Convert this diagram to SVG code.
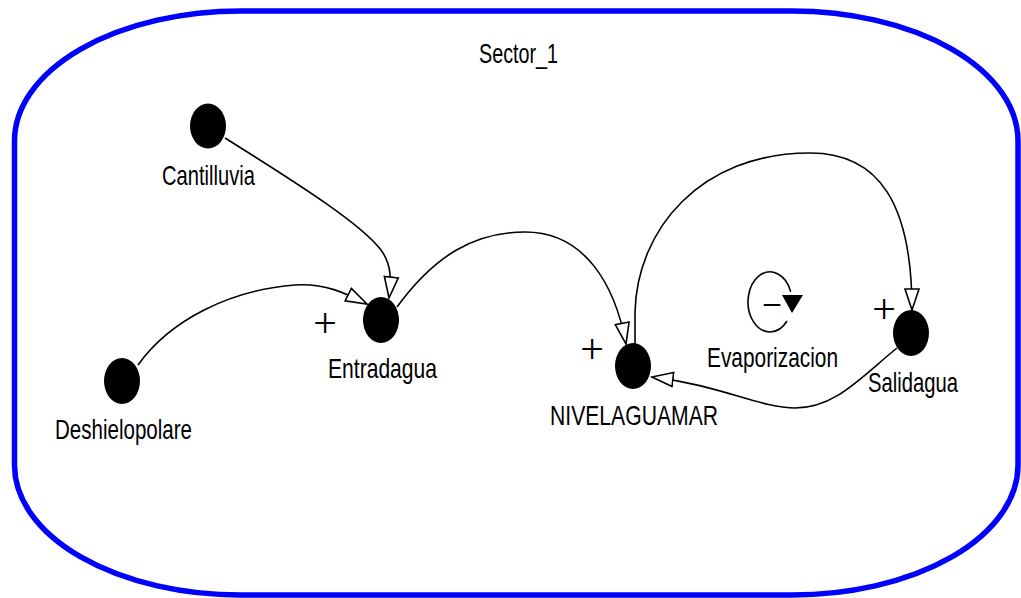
<svg xmlns="http://www.w3.org/2000/svg" width="1021" height="598" viewBox="0 0 1021 598">
  <style>
    .lbl { font-family: "Liberation Sans", Arial, sans-serif; font-size: 28px; fill: #000; }
    .sign { font-family: "Liberation Serif", "Times New Roman", serif; font-size: 42px; fill: #000; text-anchor: middle; }
    .node { fill: #000; }
    .link { fill: none; stroke: #000; stroke-width: 1.6; }
  </style>
  <defs>
    <marker id="hollow" viewBox="0 0 24 18" refX="22" refY="9" markerWidth="24" markerHeight="18" markerUnits="userSpaceOnUse" orient="auto">
      <path d="M1,2 L22,9 L1,16 Z" fill="#fff" stroke="#000" stroke-width="1.6"/>
    </marker>
  </defs>
  <rect width="1021" height="598" fill="#fff"/>
  <g id="sector">
    <rect x="14.5" y="11" width="1003.5" height="584" rx="226" ry="130" fill="none" stroke="#0000ff" stroke-width="5.5"/>
    <text class="lbl" x="479" y="63" textLength="79" lengthAdjust="spacingAndGlyphs">Sector_1</text>
  </g>
  <g id="connectors">
    <path class="link" d="M225,138 C305,188 362,225 381,250 C392,265 391,280 389,298" marker-end="url(#hollow)"/>
    <path class="link" d="M138,365 C170,320 230,290 295,285 C325,283 345,293 367,304" marker-end="url(#hollow)"/>
    <path class="link" d="M397,307 C435,255 475,232 525,232 C585,232 615,285 626,344" marker-end="url(#hollow)"/>
    <path class="link" d="M635,344 L635,312 C637,230 700,153 810,153 C880,153 912,205 912,310" marker-end="url(#hollow)"/>
    <path class="link" d="M897,348 C860,378 835,408 795,408 C760,408 720,385 652,377" marker-end="url(#hollow)"/>
  </g>
  <g id="Cantilluvia">
    <ellipse class="node" cx="208" cy="126" rx="18" ry="22.5"/>
    <text class="lbl" x="162" y="185" textLength="93" lengthAdjust="spacingAndGlyphs">Cantilluvia</text>
  </g>
  <g id="Deshielopolare">
    <ellipse class="node" cx="122" cy="381" rx="18" ry="23"/>
    <text class="lbl" x="55" y="439" textLength="137" lengthAdjust="spacingAndGlyphs">Deshielopolare</text>
  </g>
  <g id="Entradagua">
    <ellipse class="node" cx="381" cy="320" rx="18" ry="23"/>
    <text class="lbl" x="328" y="378" textLength="109" lengthAdjust="spacingAndGlyphs">Entradagua</text>
    <text class="sign" x="325" y="337">+</text>
  </g>
  <g id="NIVELAGUAMAR">
    <ellipse class="node" cx="633" cy="366" rx="18" ry="23"/>
    <text class="lbl" x="550" y="425" textLength="168" lengthAdjust="spacingAndGlyphs">NIVELAGUAMAR</text>
    <text class="sign" x="592" y="363">+</text>
  </g>
  <g id="Salidagua">
    <ellipse class="node" cx="911" cy="333" rx="18" ry="23"/>
    <text class="lbl" x="868" y="392" textLength="90" lengthAdjust="spacingAndGlyphs">Salidagua</text>
    <text class="sign" x="884" y="323">+</text>
  </g>
  <g id="Evaporizacion">
    <path d="M787,321 A22,30 0 1 1 790.7,291.7" fill="none" stroke="#000" stroke-width="1.6"/>
    <path d="M782,295 L803,295 L792,313 Z" fill="#000"/>
    <text class="sign" x="772" y="319" textLength="20" lengthAdjust="spacingAndGlyphs">−</text>
    <text class="lbl" x="707" y="367" textLength="131" lengthAdjust="spacingAndGlyphs">Evaporizacion</text>
  </g>
</svg>
